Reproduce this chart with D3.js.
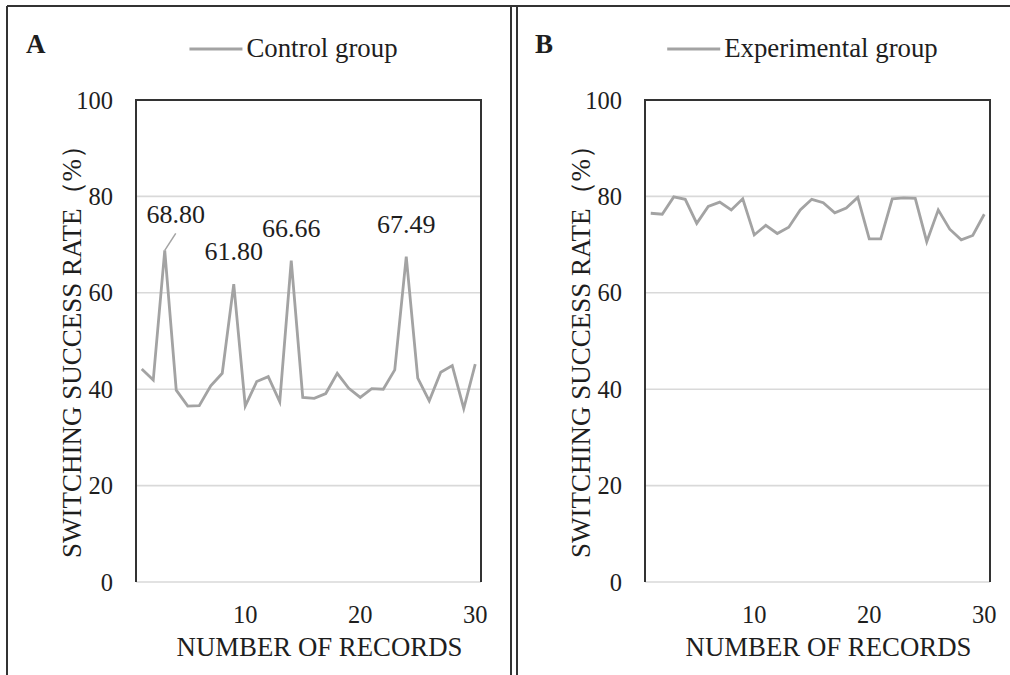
<!DOCTYPE html>
<html>
<head>
<meta charset="utf-8">
<script src="https://cdn.jsdelivr.net/npm/d3@7"></script>
<style>
  body { margin: 0; background: #fff; }
  text { font-family: "Liberation Serif", "Times New Roman", serif; fill: #1e1e1e; }
</style>
</head>
<body>
<div id="chart"></div>
<script>
// record numbers 1..30
const records = d3.range(1, 31)

// switching success rate (%) per record
const controlValues = [44.2, 41.9, 68.80, 39.8, 36.5, 36.6, 40.7, 43.3, 61.80, 36.5,
                       41.6, 42.6, 37.4, 66.66, 38.3, 38.1, 39.1, 43.3, 40.2, 38.3,
                       40.1, 40.0, 44.0, 67.49, 42.3, 37.6, 43.5, 44.9, 36.0, 45.2]
const experimentalValues = [76.5, 76.3, 79.9, 79.4, 74.4, 77.9, 78.8, 77.2, 79.5, 72.0,
                            74.0, 72.3, 73.6, 77.2, 79.4, 78.7, 76.6, 77.6, 79.8, 71.2,
                            71.2, 79.5, 79.7, 79.6, 70.6, 77.2, 73.2, 71.0, 71.9, 76.3]

const yTicks = [0, 20, 40, 60, 80, 100]
const xTicks = [10, 20, 30]
// records whose value is written above the peak
const controlLabelled = [3, 9, 14, 24]

const panels = [
  { letter: 'A', name: 'Control group', values: controlValues, labelled: controlLabelled, left: 136 },
  { letter: 'B', name: 'Experimental group', values: experimentalValues, labelled: [], left: 645 }
]

const W = 1010, H = 675
const plotW = 345, plotTop = 100, plotBottom = 582
const lineColor = '#a3a3a3'
const gridColor = '#d9d9d9'
const frameColor = '#333'
const titleSize = '26.8px'

const svg = d3.select('#chart').append('svg')
  .attr('width', W).attr('height', H)

// outer frame
const frame = svg.append('g').attr('stroke', frameColor).attr('stroke-width', 2).attr('fill', 'none')
frame.append('line').attr('x1', 7).attr('x2', W).attr('y1', 6).attr('y2', 6)
;[7, 511, 517].forEach(function(x){
  frame.append('line').attr('x1', x).attr('x2', x).attr('y1', 6).attr('y2', H)
})

panels.forEach(function(p){
  const x = d3.scalePoint().domain(records).range([p.left, p.left + plotW]).padding(0.5)
  const y = d3.scaleLinear().domain([0, 100]).range([plotBottom, plotTop])
  const g = svg.append('g')

  // gridlines
  g.selectAll('line.grid').data(yTicks).enter().append('line')
    .attr('class', 'grid')
    .attr('x1', p.left).attr('x2', p.left + plotW)
    .attr('y1', d => y(d)).attr('y2', d => y(d))
    .attr('stroke', gridColor).attr('stroke-width', 1.6)

  // plot border: left, top, right
  g.append('path')
    .attr('d', 'M' + p.left + ',' + plotBottom + 'V' + plotTop + 'H' + (p.left + plotW) + 'V' + plotBottom)
    .attr('fill', 'none').attr('stroke', frameColor).attr('stroke-width', 2)

  // y tick labels
  g.selectAll('text.ytick').data(yTicks).enter().append('text')
    .attr('class', 'ytick')
    .attr('x', p.left - 23).attr('y', d => y(d))
    .attr('dy', '0.35em')
    .attr('text-anchor', 'end')
    .style('font-size', '24.5px')
    .text(d => d)

  // x tick labels
  g.selectAll('text.xtick').data(xTicks).enter().append('text')
    .attr('class', 'xtick')
    .attr('x', d => x(d)).attr('y', 623)
    .attr('text-anchor', 'middle')
    .style('font-size', '24.5px')
    .text(d => d)

  // axis titles
  g.append('text')
    .attr('x', p.left + plotW / 2 + 11).attr('y', 656)
    .attr('text-anchor', 'middle')
    .style('font-size', titleSize)
    .text('NUMBER OF RECORDS')

  g.append('text')
    .attr('transform', 'translate(' + (p.left - 64) + ',' + ((plotTop + plotBottom) / 2 + 4) + ') rotate(-90)')
    .attr('text-anchor', 'middle')
    .attr('dy', '0.35em')
    .style('font-size', '27px')
    .text('SWITCHING SUCCESS RATE（%）')

  // series line
  const line = d3.line()
    .x((d, i) => x(records[i]))
    .y(d => y(d))
  g.append('path')
    .datum(p.values)
    .attr('d', line)
    .attr('fill', 'none')
    .attr('stroke', lineColor)
    .attr('stroke-width', 2.8)
    .attr('stroke-linejoin', 'miter')

  // value labels on peaks
  p.labelled.forEach(function(r, k){
    const v = p.values[r - 1]
    const px = x(r), py = y(v)
    if (k === 0) {
      // first peak is labelled up and to the right with a leader line
      g.append('line')
        .attr('x1', px).attr('y1', py).attr('x2', px + 11).attr('y2', py - 17)
        .attr('stroke', lineColor).attr('stroke-width', 1.5)
      g.append('text')
        .attr('x', px + 11).attr('y', py - 27)
        .attr('text-anchor', 'middle')
        .style('font-size', '26px')
        .text(v.toFixed(2))
    } else {
      g.append('text')
        .attr('x', px).attr('y', py - 24)
        .attr('text-anchor', 'middle')
        .style('font-size', '26px')
        .text(v.toFixed(2))
    }
  })

  // panel letter
  g.append('text')
    .attr('x', p.left - 110).attr('y', 53)
    .style('font-size', '27px').style('font-weight', 'bold')
    .text(p.letter)

  // legend, centred a little left of the plot centre
  const leg = g.append('g')
  const legText = leg.append('text')
    .attr('y', 57)
    .style('font-size', titleSize)
    .text(p.name)
  const tw = legText.node().getComputedTextLength()
  const total = 53 + 4 + tw
  const x0 = p.left + plotW / 2 - 15 - total / 2
  leg.append('line')
    .attr('x1', x0).attr('x2', x0 + 53).attr('y1', 49).attr('y2', 49)
    .attr('stroke', lineColor).attr('stroke-width', 2.8)
  legText.attr('x', x0 + 57)
})
</script>
</body>
</html>
